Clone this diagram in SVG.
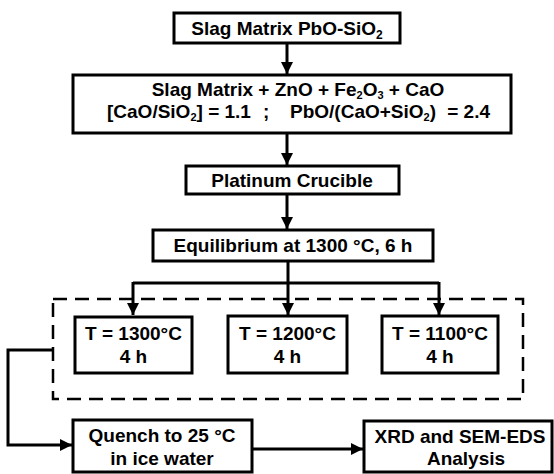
<svg xmlns="http://www.w3.org/2000/svg" width="554" height="474" viewBox="0 0 554 474">
<defs>
<style>
.box{fill:#fff;stroke:#000;stroke-width:3}
.t{font-family:"Liberation Sans",Arial,sans-serif;font-weight:bold;font-size:19px;fill:#000}
.c{text-anchor:middle}
.ln{fill:none;stroke:#000;stroke-width:3}
.dash{fill:none;stroke:#000;stroke-width:2.5;stroke-dasharray:14 8}
</style>
<marker id="ah" viewBox="0 0 10 10" refX="10" refY="5" markerWidth="4" markerHeight="4" orient="auto" markerUnits="strokeWidth">
<path d="M0,0 L10,5 L0,10 Z" fill="#000"/>
</marker>
</defs>
<rect width="554" height="474" fill="#fff"/>
<g id="group-dashed"><rect class="dash" x="53" y="299" width="470" height="100"/></g>
<g id="connectors">
<line class="ln" x1="287" y1="43" x2="287" y2="74" marker-end="url(#ah)"/>
<line class="ln" x1="287" y1="133" x2="287" y2="165" marker-end="url(#ah)"/>
<line class="ln" x1="287" y1="194" x2="287" y2="229" marker-end="url(#ah)"/>
<polyline class="ln" points="288,261 288,283"/>
<polyline class="ln" points="133,283 439,283"/>
<line class="ln" x1="133" y1="282" x2="133" y2="315" marker-end="url(#ah)"/>
<line class="ln" x1="288" y1="282" x2="288" y2="315" marker-end="url(#ah)"/>
<line class="ln" x1="439" y1="282" x2="439" y2="315" marker-end="url(#ah)"/>
<polyline class="ln" points="53,350 8,350 8,445 72,445" marker-end="url(#ah)"/>
<line class="ln" x1="253" y1="449" x2="363" y2="449" marker-end="url(#ah)"/>
</g>
<g id="n1"><rect class="box" x="174" y="13" width="226" height="30"/>
<text class="t c" x="287" y="35">Slag Matrix PbO-SiO<tspan dy="4" font-size="12">2</tspan></text></g>
<g id="n2"><rect class="box" x="73" y="75" width="438" height="58"/>
<text class="t c" x="298" y="96">Slag Matrix + ZnO + Fe<tspan dy="3" font-size="11">2</tspan><tspan dy="-3">O</tspan><tspan dy="3" font-size="11">3</tspan><tspan dy="-3"> + CaO</tspan></text>
<text class="t" x="107" y="118">[CaO/SiO<tspan dy="3" font-size="11">2</tspan><tspan dy="-3">] = 1.1</tspan></text>
<text class="t" x="263" y="118">;</text>
<text class="t" x="290" y="118">PbO/(CaO+SiO<tspan dy="3" font-size="11">2</tspan><tspan dy="-3">)</tspan></text>
<text class="t" x="490" y="118" text-anchor="end">= 2.4</text></g>
<g id="n3"><rect class="box" x="186" y="166" width="213" height="28"/>
<text class="t c" x="292" y="187">Platinum Crucible</text></g>
<g id="n4"><rect class="box" x="153" y="230" width="280" height="31"/>
<text class="t c" x="293" y="252">Equilibrium at 1300 °C, 6 h</text></g>
<g id="n5"><rect class="box" x="75" y="317" width="117" height="56"/>
<text class="t c" x="133.5" y="340">T = 1300°C</text><text class="t c" x="133.5" y="363">4 h</text></g>
<g id="n6"><rect class="box" x="228" y="316" width="119" height="57"/>
<text class="t c" x="287.5" y="340">T = 1200°C</text><text class="t c" x="287.5" y="363">4 h</text></g>
<g id="n7"><rect class="box" x="382" y="316" width="116" height="57"/>
<text class="t c" x="440" y="340">T = 1100°C</text><text class="t c" x="440" y="363">4 h</text></g>
<g id="n8"><rect class="box" x="73" y="420" width="179" height="52"/>
<text class="t c" x="162" y="442">Quench to 25 °C</text><text class="t c" x="162" y="465">in ice water</text></g>
<g id="n9"><rect class="box" x="364" y="421" width="188" height="51"/>
<text class="t c" x="460" y="443">XRD and SEM-EDS</text><text class="t c" x="466" y="465">Analysis</text></g>
</svg>
